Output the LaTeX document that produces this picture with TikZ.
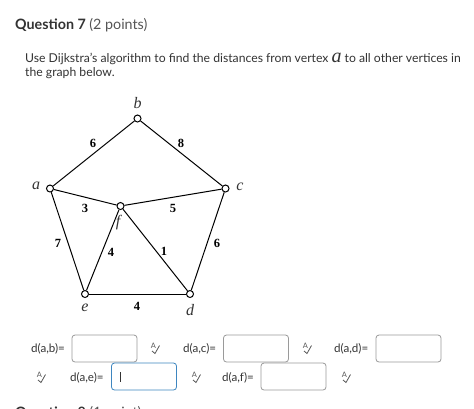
\documentclass[tikz,border=0pt]{standalone}
\usepackage{fontspec}
\setmainfont{Lato}
\newfontfamily\timesf{Liberation Serif}
\definecolor{txt}{HTML}{333333}
\definecolor{grytxt}{HTML}{555555}
\definecolor{boxline}{HTML}{9A9A9A}
\definecolor{bluebox}{HTML}{3E86C0}
\begin{document}
\begin{tikzpicture}[x=1pt,y=-1pt,
  vtx/.style={circle,draw=black,fill=white,line width=1pt,inner sep=0pt,minimum size=7pt},
  edge/.style={line width=1pt,draw=black},
  vlab/.style={font=\timesf\itshape\fontsize{16}{16}\selectfont,text=black!80,inner sep=0pt},
  wlab/.style={font=\timesf\bfseries\fontsize{12.5}{12.5}\selectfont,text=black,inner sep=0pt},
  body/.style={font=\fontsize{12.2}{14}\selectfont,text=txt,anchor=base west,inner sep=0pt},
  ans/.style={body,font=\fontsize{11.6}{14}\selectfont},
  ansbox/.style={draw=boxline,rounded corners=3pt,line width=0.8pt,minimum width=65pt,minimum height=27pt,inner sep=0pt},
  spellchk/.pic={
    \node[font=\fontsize{7.5}{7.5}\selectfont,text=grytxt,inner sep=0pt] at (-1.5,-2) {A};
    \draw[grytxt,line width=0.8pt] (-3,3) -- (0,5.5) -- (4.5,-2.5);
  }]
\useasboundingbox[fill=white] (0,0) rectangle (474,408);
% header
\node[body,font=\bfseries\fontsize{14.3}{16}\selectfont] (q7) at (15,29) {Question 7 \mdseries\textcolor{grytxt}{(2 points)}};
\node[body] (l1) at (25,62) {Use Dijkstra's algorithm to find the distances from vertex {\timesf\itshape\fontsize{20}{20}\selectfont a} to all other vertices in};
\node[body] (l2) at (25,76) {the graph below.};
% graph
\node[vtx] (b) at (137.5,118.5) {};
\node[vtx] (a) at (50,188.5) {};
\node[vtx] (c) at (225.5,188.5) {};
\node[vtx] (f) at (120.5,206) {};
\node[vtx] (e) at (85,294) {};
\node[vtx] (d) at (190,294) {};
\draw[edge] (a) -- (b);
\draw[edge] (b) -- (c);
\draw[edge] (a) -- (f);
\draw[edge] (f) -- (c);
\draw[edge] (a) -- (e);
\draw[edge] (f) -- (e);
\draw[edge] (f) -- (d);
\draw[edge] (c) -- (d);
\draw[edge] (e) -- (d);
\node[vlab] (lb) at (137.5,103) {b};
\node[vlab] (la) at (36,186) {a};
\node[vlab] (lc) at (240,187) {c};
\node[vlab] (lf) at (118,223) {f};
\node[vlab] (le) at (85,308) {e};
\node[vlab] (ld) at (190,310) {d};
\node[wlab] (w1) at (93,143) {6};
\node[wlab] (w2) at (181,143) {8};
\node[wlab] (w3) at (85,208) {3};
\node[wlab] (w4) at (173,208) {5};
\node[wlab] (w5) at (58,243) {7};
\node[wlab] (w6) at (111,252) {4};
\node[wlab] (w7) at (164,251) {1};
\node[wlab] (w8) at (217,243) {6};
\node[wlab] (w9) at (137,306) {4};
% answers row 1
\node[ans] (t1) at (31,352.5) {d(a,b)=};
\node[ansbox] (bx1) at (104.5,348.5) {};
\pic at (155,348) {spellchk};
\node[ans] (t2) at (183,352.5) {d(a,c)=};
\node[ansbox] (bx2) at (256,348.5) {};
\pic at (307,348) {spellchk};
\node[ans] (t3) at (334,352.5) {d(a,d)=};
\node[ansbox] (bx3) at (408.5,348.5) {};
% row 2
\pic at (41,377) {spellchk};
\node[ans] (t4) at (70,381) {d(a,e)=};
\node[ansbox,draw=bluebox] (bx4) at (144,376.5) {};
\draw[txt,line width=0.8pt] ([xshift=9pt,yshift=-5pt]bx4.west) -- ([xshift=9pt,yshift=5pt]bx4.west);
\pic at (196,377) {spellchk};
\node[ans] (t5) at (222,381) {d(a,f)=};
\node[ansbox] (bx5) at (293.5,376.5) {};
\pic at (346,377) {spellchk};
% next question (cut off at the bottom edge, as in the reference)
\node[body,font=\bfseries\fontsize{14.3}{16}\selectfont] (q8) at (15,417) {Question 8 \mdseries\textcolor{grytxt}{(1 point)}};
\end{tikzpicture}
\end{document}
